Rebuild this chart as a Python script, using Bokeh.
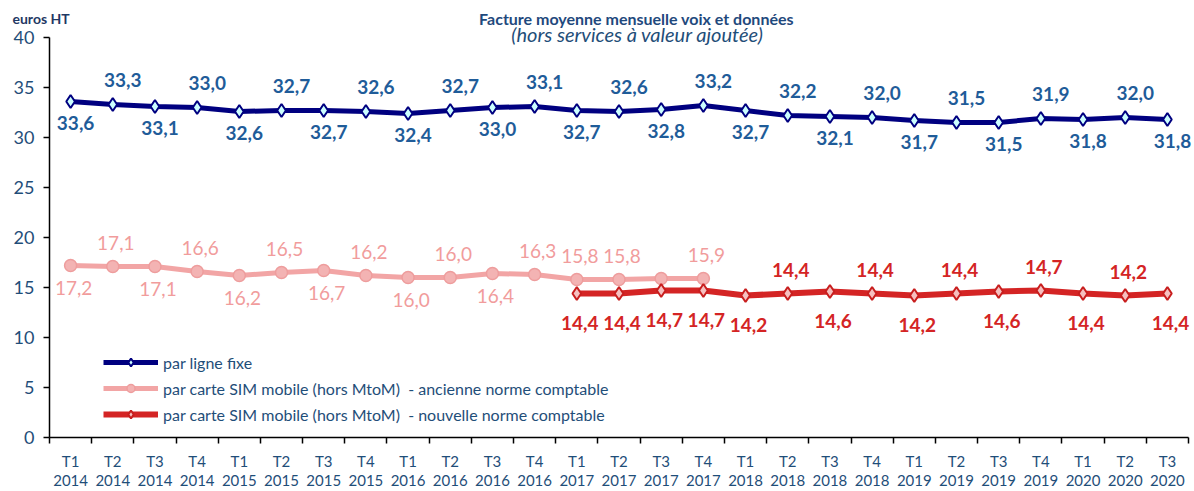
from bokeh.plotting import figure
from bokeh.models import (Range1d, FixedTicker, LinearAxis, Label, Legend,
                          LegendItem, ColumnDataSource, Grid)
from bokeh.core.properties import value
from bokeh.embed import file_html
from bokeh.resources import INLINE

# ---------------- data ----------------
quarters = ["T1", "T2", "T3", "T4"] * 6 + ["T1", "T2", "T3"]
years = (["2014"] * 4 + ["2015"] * 4 + ["2016"] * 4 + ["2017"] * 4 +
         ["2018"] * 4 + ["2019"] * 4 + ["2020"] * 3)

fixe = [33.6, 33.3, 33.1, 33.0, 32.6, 32.7, 32.7, 32.6, 32.4, 32.7, 33.0, 33.1,
        32.7, 32.6, 32.8, 33.2, 32.7, 32.2, 32.1, 32.0, 31.7, 31.5, 31.5, 31.9,
        31.8, 32.0, 31.8]
mobile_ancienne = [17.2, 17.1, 17.1, 16.6, 16.2, 16.5, 16.7, 16.2, 16.0, 16.0,
                   16.4, 16.3, 15.8, 15.8, 15.9, 15.9]
mobile_nouvelle = [14.4, 14.4, 14.7, 14.7, 14.2, 14.4, 14.6, 14.4, 14.2, 14.4,
                   14.6, 14.7, 14.4, 14.2, 14.4]
nouvelle_start = ("T1", "2017")

legend_labels = [
    "par ligne fixe",
    "par carte SIM mobile (hors MtoM)  - ancienne norme comptable",
    "par carte SIM mobile (hors MtoM)  - nouvelle norme comptable",
]
title_text = "Facture moyenne mensuelle voix et données"
subtitle_text = "(hors services à valeur ajoutée)"
unit_text = "euros HT"

# label placement (a = above, b = below, "" = no label)
fixe_pos = ["b", "a"] * 13 + ["b"]
anc_pos = ["b", "a"] * 6 + ["a", "a", "", "a"]
nouv_pos = ["b", "b", "b", "b", "b", "a", "b", "a", "b", "a", "b", "a", "b", "a", "b"]

# ---------------- styles / layout ----------------
FONT = "Lato"
AXIS_COL = "#1F4E79"
NAVY = "#000080"
BLUE_LBL = "#1F5C99"
PINK = "#F2A5A5"
PINK_LBL = "#F19C9C"
RED = "#D42424"

FRAME_W, FRAME_H = 1194, 491
PAD_L, PAD_R, PAD_T, PAD_B = 49, 6, 37, 54   # px between canvas edge and axes

n = len(quarters)
xs = list(range(n))
start = list(zip(quarters, years)).index(nouvelle_start)
x_anc = xs[:len(mobile_ancienne)]
x_nouv = xs[start:start + len(mobile_nouvelle)]

ymax = 40
cw = (FRAME_W - PAD_L - PAD_R) / n
ppu = (FRAME_H - PAD_T - PAD_B) / ymax

p = figure(frame_width=FRAME_W, frame_height=FRAME_H,
           x_range=Range1d(-0.5 - PAD_L / cw, n - 0.5 + PAD_R / cw),
           y_range=Range1d(-PAD_B / ppu, ymax + PAD_T / ppu),
           output_backend="svg", toolbar_location=None,
           x_axis_location=None, y_axis_location=None,
           min_border_left=0, min_border_right=0, min_border_top=0,
           min_border_bottom=0)
p.outline_line_color = None
p.background_fill_color = "white"
p.border_fill_color = "white"
for g in p.select(type=Grid):
    g.visible = False

# ---- axes ----
yax = LinearAxis(ticker=FixedTicker(ticks=list(range(0, ymax + 1, 5))),
                 fixed_location=-0.5, bounds=(0, ymax))
yax.axis_line_color = "black"
yax.axis_line_width = 1.5
yax.major_tick_line_color = "black"
yax.major_tick_line_width = 1.5
yax.major_tick_out = 6
yax.major_tick_in = 0
yax.minor_tick_line_color = None
yax.major_label_standoff = 9
yax.major_label_text_font = FONT
yax.major_label_text_font_size = "18px"
yax.major_label_text_color = AXIS_COL
p.add_layout(yax, "left")

boundaries = [i - 0.5 for i in range(n + 1)]
xax = LinearAxis(ticker=FixedTicker(ticks=xs, minor_ticks=boundaries),
                 fixed_location=0, bounds=(-0.5, n - 0.5))
xax.axis_line_color = "black"
xax.axis_line_width = 1.5
xax.major_tick_out = 0
xax.major_tick_in = 0
xax.major_tick_line_color = None
xax.minor_tick_line_color = "black"
xax.minor_tick_line_width = 1.5
xax.minor_tick_out = 6
xax.minor_tick_in = 0
xax.major_label_standoff = 8
xax.major_label_text_font = FONT
xax.major_label_text_font_size = "15px"
xax.major_label_text_line_height = 1.1
xax.major_label_text_color = AXIS_COL
xax.major_label_overrides = {i: f"{q}\n{y}" for i, (q, y) in enumerate(zip(quarters, years))}
p.add_layout(xax, "below")

# ---- series ----
r_anc_l = p.line(x_anc, mobile_ancienne, line_color=PINK, line_width=5)
r_anc_m = p.scatter(x_anc, mobile_ancienne, marker="circle", size=12,
                    fill_color="#F3B3B3", line_color="#EE9D9D", line_width=1.5)

r_nouv_l = p.line(x_nouv, mobile_nouvelle, line_color=RED, line_width=6)
r_nouv_m = p.scatter(x_nouv, mobile_nouvelle, marker="diamond", size=13,
                     fill_color="#F6C0C0", line_color="#C81E1E", line_width=2)

r_fixe_l = p.line(xs, fixe, line_color=NAVY, line_width=5)
r_fixe_m = p.scatter(xs, fixe, marker="diamond", size=13,
                     fill_color="#CCFFFF", line_color=NAVY, line_width=2)


def fmt(v):
    return f"{v:.1f}".replace(".", ",")


def add_labels(xv, yv, pos, color, bold, up, down, dx_up, dx_down):
    for side, off, dx in (("a", up, dx_up), ("b", down, dx_down)):
        sel = [i for i, s in enumerate(pos) if s == side]
        src = ColumnDataSource(dict(x=[xv[i] for i in sel], y=[yv[i] for i in sel],
                                    t=[fmt(yv[i]) for i in sel]))
        p.text(x="x", y="y", text="t", source=src, text_font=value(FONT),
               text_font_style="bold" if bold else "normal",
               text_font_size="19px", text_color=color, text_align="center",
               text_baseline="middle", x_offset=dx, y_offset=off)


add_labels(xs, fixe, fixe_pos, BLUE_LBL, True, -25, 21, 10, 5)
add_labels(x_anc, mobile_ancienne, anc_pos, PINK_LBL, False, -24, 22, 3, 3)
add_labels(x_nouv, mobile_nouvelle, nouv_pos, RED, True, -24, 29, 3, 3)

# ---- legend ----
legend = Legend(items=[
    LegendItem(label=legend_labels[0], renderers=[r_fixe_l, r_fixe_m]),
    LegendItem(label=legend_labels[1], renderers=[r_anc_l, r_anc_m]),
    LegendItem(label=legend_labels[2], renderers=[r_nouv_l, r_nouv_m]),
], location=(103, 67), orientation="vertical")
legend.background_fill_alpha = 0
legend.border_line_color = None
legend.padding = 0
legend.margin = 0
legend.spacing = 6
legend.glyph_width = 55
legend.glyph_height = 20
legend.label_height = 20
legend.label_standoff = 5
legend.label_text_font = FONT
legend.label_text_font_size = "16px"
legend.label_text_color = AXIS_COL
p.add_layout(legend, "center")

# ---- titles (screen units, from the frame's bottom-left corner) ----
p.add_layout(Label(x=636, y=FRAME_H - 18, x_units="screen", y_units="screen",
                   text=title_text, text_font=FONT, text_font_style="bold",
                   text_font_size="16px", text_color="#1F497D",
                   text_align="center", text_baseline="alphabetic"))
p.add_layout(Label(x=637, y=FRAME_H - 33, x_units="screen", y_units="screen",
                   text=subtitle_text, text_font=FONT, text_font_style="italic",
                   text_font_size="20px", text_color=AXIS_COL,
                   text_align="center", text_baseline="middle"))
p.add_layout(Label(x=12, y=FRAME_H - 18, x_units="screen", y_units="screen",
                   text=unit_text, text_font=FONT, text_font_style="bold",
                   text_font_size="14px", text_color="#1F3864",
                   text_align="left", text_baseline="middle"))

open("out.html", "w").write(file_html(p, INLINE))
